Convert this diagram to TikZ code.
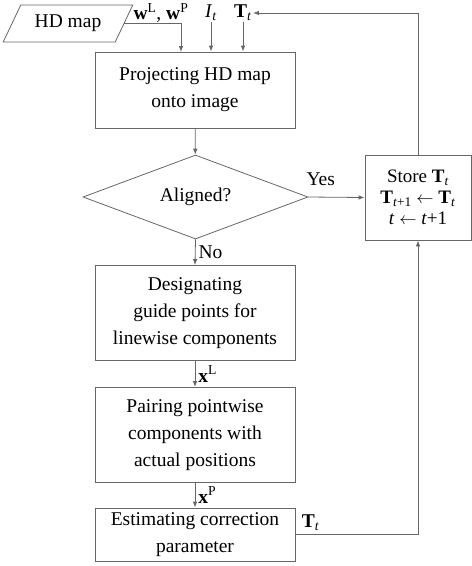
\documentclass[tikz,border=0pt]{standalone}
\usepackage{fontspec}
\setmainfont{Liberation Serif}
\usetikzlibrary{arrows.meta,shapes.geometric,positioning}

\tikzset{
  line/.style={draw=black!60, line width=0.8pt},
  arr/.style={line, -{Latex[length=6pt,width=4.5pt]}},
  procbox/.style={line, rectangle, minimum width=200pt, align=center, inner sep=2pt},
  decide/.style={line, diamond, aspect=2.68, minimum width=225pt, minimum height=84pt, inner sep=0pt},
  datain/.style={line, trapezium, trapezium left angle=56, trapezium right angle=124,
    trapezium stretches=true, minimum width=130pt, minimum height=37pt, inner sep=1pt},
  lbl/.style={inner sep=1pt}
}

\begin{document}
\begin{tikzpicture}[x=1pt,y=-1pt,font=\fontsize{19.5}{27}\selectfont]
\useasboundingbox (0,0) rectangle (472,566);

% main column
\node[procbox, minimum height=76pt] (proj) at (195,90) {Projecting HD map\\onto image};
\node[decide] (align) at (195.5,197) {Aligned?};
\node[procbox, minimum height=95pt] (design) at (195,313) {Designating\\guide points for\\linewise components};
\node[procbox, minimum height=95pt] (pair) at (195,435) {Pairing pointwise\\components with\\actual positions};
\node[procbox, minimum height=53pt] (est) at (195,534.5) {Estimating correction\\parameter};

% side box
\node[line, rectangle, minimum width=106pt, minimum height=85pt, align=center, inner sep=2pt,
  font=\fontsize{19}{21}\selectfont] (store) at (418,197.5)
  {Store \textbf{T}\textsubscript{\textit{t}}\\
   \textbf{T}\textsubscript{\textit{t}+1} $\leftarrow$ \textbf{T}\textsubscript{\textit{t}}\\
   \textit{t} $\leftarrow$ \textit{t}+1};

% inputs
\node[datain] (hdmap) at (68,23.5) {HD map};
\node[lbl] (wlbl) at (161,13) {\textbf{w}\textsuperscript{L}, \textbf{w}\textsuperscript{P}};
\node[lbl] (ilbl) at (211,13) {\textit{I}\textsubscript{\textit{t}}};
\node[lbl] (tlbl) at (243,13) {\textbf{T}\textsubscript{\textit{t}}};
\coordinate (win) at (181,52);

\draw[arr] (hdmap.east) -| (win);
\draw[arr] (ilbl.south) -- (ilbl.south |- proj.north);
\draw[arr] (tlbl.south) -- (tlbl.south |- proj.north);
\draw[arr] (store.north) |- (tlbl.east);

% flow
\draw[arr] (proj) -- (align);
\draw[arr] (align.east) -- node[lbl, above=10pt, pos=0.22] {Yes} (store.west);
\draw[arr] (align.south) -- node[lbl, right=2pt] {No} (design.north);
\draw[arr] (design) -- node[lbl, right=2pt] {\textbf{x}\textsuperscript{L}} (pair);
\draw[arr] (pair) -- node[lbl, right=2pt] {\textbf{x}\textsuperscript{P}} (est);
\draw[arr] (est.east) -- node[lbl, pos=0, above right=2pt and 5pt] {\textbf{T}\textsubscript{\textit{t}}} (418,534.5) -- (store.south);
\end{tikzpicture}
\end{document}
